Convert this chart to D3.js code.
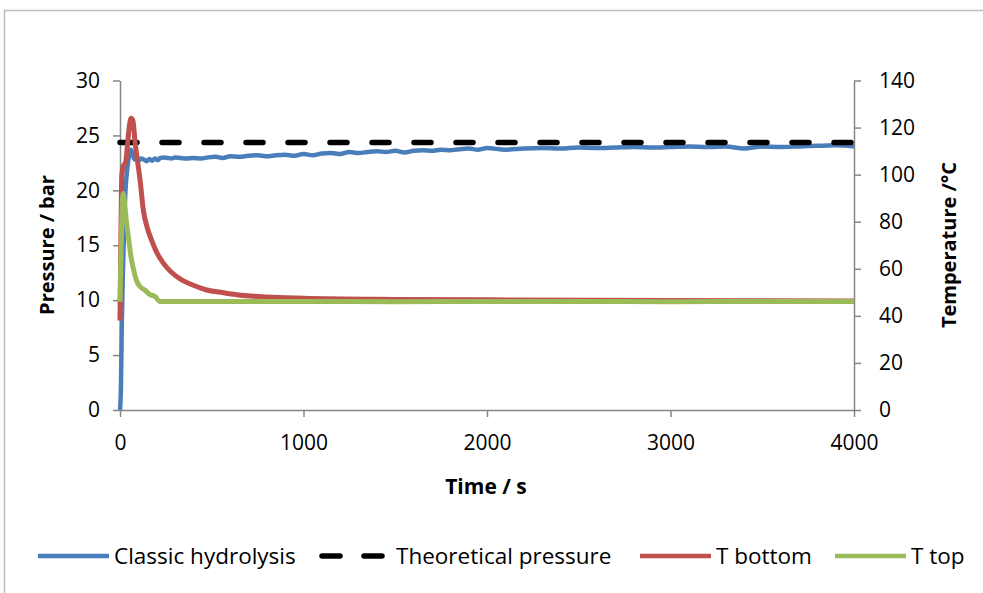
<!DOCTYPE html>
<html>
<head>
<meta charset="utf-8">
<script src="https://cdn.jsdelivr.net/npm/d3@7"></script>
<style>
  body { margin: 0; background: #fff; }
  text { font-family: "Open Sans", Lato, sans-serif; fill: #000; }
</style>
</head>
<body>
<div id="chart"></div>
<script>
// time (s) and values
const pressureTime = [0, 5, 10, 15, 20, 25, 30, 40, 50, 60, 70, 80, 90, 100, 115, 130, 145, 160, 175, 190, 205, 220, 240, 260, 280, 300, 330, 360, 400, 440, 480, 520, 560, 600, 650, 700, 750, 800, 850, 900, 950, 1000, 1050, 1100, 1150, 1200, 1250, 1300, 1350, 1400, 1450, 1500, 1550, 1600, 1650, 1700, 1750, 1800, 1850, 1900, 1950, 2000, 2100, 2200, 2300, 2400, 2500, 2600, 2700, 2800, 2900, 3000, 3100, 3200, 3300, 3400, 3500, 3600, 3700, 3800, 3900, 4000]
const classicHydrolysis = [0, 2, 8, 12, 15, 18, 20, 22, 23.2, 23.7, 23.2, 22.8, 22.9, 22.7, 22.9, 22.8, 22.65, 22.85, 22.7, 22.9, 22.75, 22.95, 23.0, 22.95, 22.9, 23.0, 22.95, 22.9, 22.95, 22.9, 23.0, 23.05, 22.95, 23.1, 23.05, 23.15, 23.2, 23.1, 23.2, 23.25, 23.15, 23.3, 23.2, 23.35, 23.4, 23.3, 23.5, 23.4, 23.5, 23.55, 23.5, 23.6, 23.45, 23.6, 23.65, 23.6, 23.7, 23.65, 23.75, 23.8, 23.7, 23.85, 23.7, 23.8, 23.85, 23.8, 23.9, 23.85, 23.9, 23.95, 23.9, 23.95, 24.0, 23.95, 24.0, 23.8, 24.0, 23.95, 24.0, 24.05, 24.1, 24.0]

const theoreticalTime = [0, 4000]
const theoreticalPressure = [24.35, 24.35]

const bottomTime = [0, 5, 10, 20, 30, 40, 50, 60, 70, 82, 95, 109, 127, 150, 173, 200, 236, 280, 336, 400, 472, 550, 636, 800, 1000, 1500, 2000, 3000, 4000]
const tBottom = [38, 75, 100, 104, 105, 112, 120, 124, 123, 114, 106, 98, 85, 77, 72, 67, 62.4, 58.5, 55.3, 53, 51, 50, 49, 48, 47.5, 47, 46.8, 46.5, 46.3]

const topTime = [0, 8, 14, 18, 25, 35, 45, 60, 73, 90, 109, 135, 164, 191, 218, 250, 500, 1000, 1500, 2000, 2500, 3000, 3500, 4000]
const tTop = [46, 75, 90, 92, 88, 80, 74, 65, 60, 55, 52.5, 51, 49, 48.2, 46.1, 46.1, 46.1, 46.1, 46.0, 46.1, 46.1, 46.0, 46.1, 46.1]

const timeTicks = [0, 1000, 2000, 3000, 4000]
const pressureTicks = [0, 5, 10, 15, 20, 25, 30]
const tempTicks = [0, 20, 40, 60, 80, 100, 120, 140]

const width = 983, height = 593
const axisColor = "#868686"

const svg = d3.select("#chart").append("svg")
  .attr("width", width)
  .attr("height", height)

// chart frame
svg.append("rect")
  .attr("x", 4.5).attr("y", 10.5)
  .attr("width", 1000).attr("height", 620)
  .attr("fill", "none")
  .attr("stroke", "#bdbdbd")
  .attr("stroke-width", 1.5)

const x = d3.scaleLinear().domain([0, 4000]).range([120, 854])
const yP = d3.scaleLinear().domain([0, 30]).range([410, 80.5])
const yT = d3.scaleLinear().domain([0, 140]).range([410, 80.5])

const styleAxis = g => {
  g.select(".domain").attr("stroke", axisColor).attr("stroke-width", 1.5)
  g.selectAll(".tick line").attr("stroke", axisColor).attr("stroke-width", 1.5)
  g.selectAll(".tick text").style("font-size", "21px").attr("fill", "#000")
}

svg.append("g")
  .attr("transform", "translate(0,410)")
  .call(d3.axisBottom(x).tickValues(timeTicks).tickFormat(d3.format("d"))
    .tickSize(7).tickSizeOuter(0).tickPadding(18))
  .call(styleAxis)

svg.append("g")
  .attr("transform", "translate(120,0)")
  .call(d3.axisLeft(yP).tickValues(pressureTicks).tickFormat(d3.format("d"))
    .tickSize(7).tickSizeOuter(0).tickPadding(13))
  .call(styleAxis)

svg.append("g")
  .attr("transform", "translate(854,0)")
  .call(d3.axisRight(yT).tickValues(tempTicks).tickFormat(d3.format("d"))
    .tickSize(7).tickSizeOuter(0).tickPadding(18))
  .call(styleAxis)

// axis titles
svg.append("text")
  .attr("transform", "translate(54,245) rotate(-90)")
  .attr("text-anchor", "middle")
  .style("font-size", "20px").style("font-weight", "bold")
  .text("Pressure / bar")

svg.append("text")
  .attr("transform", "translate(956,245) rotate(-90)")
  .attr("text-anchor", "middle")
  .style("font-size", "20px").style("font-weight", "bold")
  .text("Temperature /°C")

svg.append("text")
  .attr("x", 486).attr("y", 494)
  .attr("text-anchor", "middle")
  .style("font-size", "21px").style("font-weight", "bold")
  .text("Time / s")

const zip = (ts, vs) => ts.map((t, i) => [t, vs[i]])

const series = [
  { name: "Classic hydrolysis", data: zip(pressureTime, classicHydrolysis), y: yP, color: "#4a7ebb", w: 4.5, dash: null },
  { name: "Theoretical pressure", data: zip(theoreticalTime, theoreticalPressure), y: yP, color: "#000", w: 5.5, dash: "17,25" },
  { name: "T bottom", data: zip(bottomTime, tBottom), y: yT, color: "#c0504d", w: 5, dash: null },
  { name: "T top", data: zip(topTime, tTop), y: yT, color: "#9bbb59", w: 5, dash: null }
]

series.forEach(s => {
  const line = d3.line()
    .x(d => x(d[0]))
    .y(d => s.y(d[1]))
    .curve(d3.curveMonotoneX)
  svg.append("path")
    .attr("d", line(s.data))
    .attr("fill", "none")
    .attr("stroke", s.color)
    .attr("stroke-width", s.w)
    .attr("stroke-linejoin", "round")
    .attr("stroke-linecap", s.dash ? "round" : "butt")
    .attr("stroke-dasharray", s.dash)
})

// legend
const legendX = [38, 320, 640, 835]
const legend = svg.append("g")
series.forEach((s, i) => {
  const g = legend.append("g").attr("transform", `translate(${legendX[i]},556)`)
  if (s.dash) {
    g.append("line").attr("x1", 2).attr("x2", 20).attr("stroke", s.color)
      .attr("stroke-width", s.w).attr("stroke-linecap", "round")
    g.append("line").attr("x1", 44).attr("x2", 62).attr("stroke", s.color)
      .attr("stroke-width", s.w).attr("stroke-linecap", "round")
  } else {
    g.append("line").attr("x1", 0).attr("x2", 71).attr("stroke", s.color)
      .attr("stroke-width", 4.5)
  }
  g.append("text")
    .attr("x", i === 1 ? 76 : 76).attr("dy", "0.35em")
    .style("font-size", "22.5px")
    .text(s.name)
})
</script>
</body>
</html>
